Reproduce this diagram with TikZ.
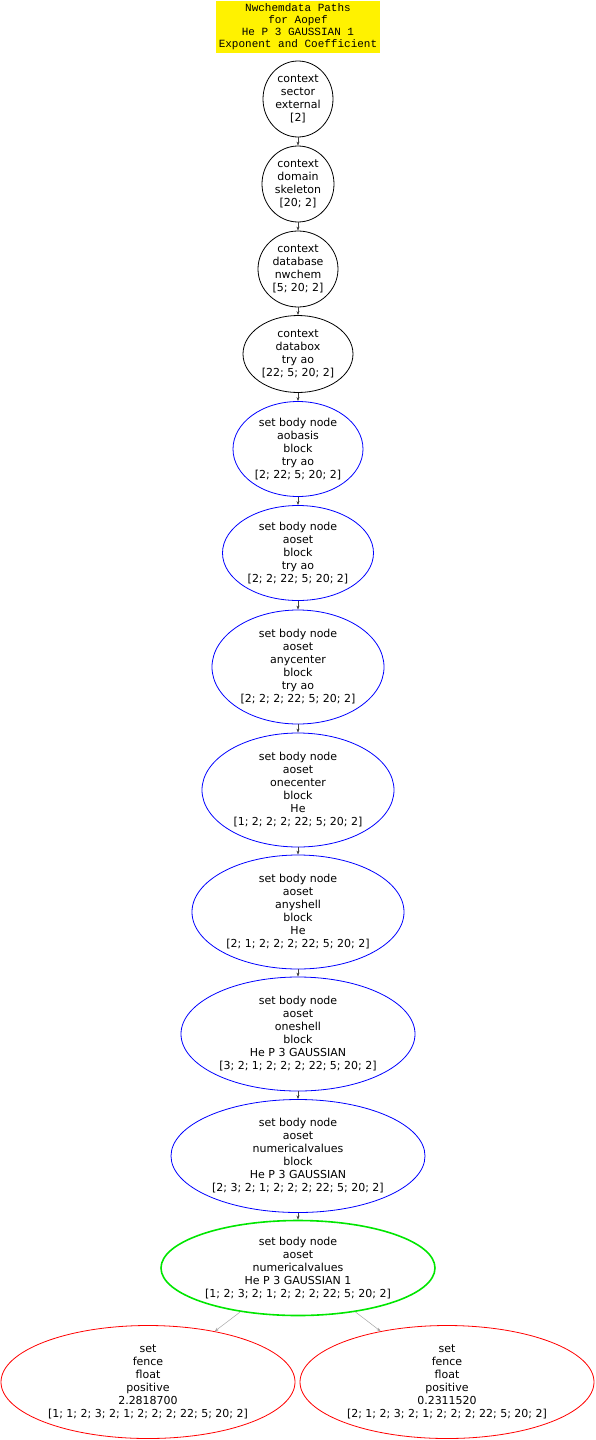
\documentclass[tikz,border=0pt]{standalone}
\usepackage{fontspec}
\setmainfont{DejaVu Sans}
\newfontfamily\titlefont{Liberation Mono}
\usetikzlibrary{shapes.geometric,arrows.meta}
\tikzset{
  ell/.style={ellipse, draw, inner sep=0pt, align=center, line width=0.8pt,
     font=\fontsize{11}{13}\selectfont},
  blk/.style={ell, draw=black},
  blu/.style={ell, draw=blue},
  grn/.style={ell, draw={rgb,255:red,0;green,230;blue,0}, line width=1.6pt},
  rd/.style={ell, draw=red},
  arr/.style={draw=black!75, line width=0.5pt, -{Stealth[length=4pt,width=3pt]}},
  garr/.style={draw=black!35, line width=0.5pt, -{Stealth[length=4pt,width=3pt,fill=black!70]}},
  titlebox/.style={fill=yellow, inner sep=0pt, minimum width=164pt, minimum height=52pt,
     align=center, font=\titlefont\fontsize{11}{12}\selectfont}
}
\begin{document}
\begin{tikzpicture}[x=1pt,y=-1pt]
\useasboundingbox (0,0) rectangle (596,1440);
\node[titlebox] (title) at (298,27) {Nwchemdata Paths\\for Aopef\\He P 3 GAUSSIAN 1\\Exponent and Coefficient};
\node[blk, minimum width=70pt, minimum height=76pt] (n1) at (298,99) {context\\sector\\external\\{[2]}};
\node[blk, minimum width=72pt, minimum height=76pt] (n2) at (298,184) {context\\domain\\skeleton\\{[20; 2]}};
\node[blk, minimum width=80pt, minimum height=76pt] (n3) at (298,269) {context\\database\\nwchem\\{[5; 20; 2]}};
\node[blk, minimum width=110pt, minimum height=77pt] (n4) at (298,354) {context\\databox\\try ao\\{[22; 5; 20; 2]}};
\node[blu, minimum width=130pt, minimum height=95pt] (n5) at (298,449) {set body node\\aobasis\\block\\try ao\\{[2; 22; 5; 20; 2]}};
\node[blu, minimum width=151pt, minimum height=95pt] (n6) at (298,553) {set body node\\aoset\\block\\try ao\\{[2; 2; 22; 5; 20; 2]}};
\node[blu, minimum width=172pt, minimum height=114pt] (n7) at (298,667) {set body node\\aoset\\anycenter\\block\\try ao\\{[2; 2; 2; 22; 5; 20; 2]}};
\node[blu, minimum width=192pt, minimum height=114pt] (n8) at (298,790) {set body node\\aoset\\onecenter\\block\\He\\{[1; 2; 2; 2; 22; 5; 20; 2]}};
\node[blu, minimum width=212pt, minimum height=114pt] (n9) at (298,912) {set body node\\aoset\\anyshell\\block\\He\\{[2; 1; 2; 2; 2; 22; 5; 20; 2]}};
\node[blu, minimum width=234pt, minimum height=114pt] (n10) at (298,1034) {set body node\\aoset\\oneshell\\block\\He P 3 GAUSSIAN\\{[3; 2; 1; 2; 2; 2; 22; 5; 20; 2]}};
\node[blu, minimum width=254pt, minimum height=113pt] (n11) at (298,1156) {set body node\\aoset\\numericalvalues\\block\\He P 3 GAUSSIAN\\{[2; 3; 2; 1; 2; 2; 2; 22; 5; 20; 2]}};
\node[grn, minimum width=274pt, minimum height=95pt] (n12) at (298,1268) {set body node\\aoset\\numericalvalues\\He P 3 GAUSSIAN 1\\{[1; 2; 3; 2; 1; 2; 2; 2; 22; 5; 20; 2]}};
\node[rd, minimum width=294pt, minimum height=113pt] (n13) at (148,1382) {set\\fence\\float\\positive\\2.2818700\\{[1; 1; 2; 3; 2; 1; 2; 2; 2; 22; 5; 20; 2]}};
\node[rd, minimum width=294pt, minimum height=113pt] (n14) at (447,1382) {set\\fence\\float\\positive\\0.2311520\\{[2; 1; 2; 3; 2; 1; 2; 2; 2; 22; 5; 20; 2]}};
\draw[arr] (n1) -- (n2);
\draw[arr] (n2) -- (n3);
\draw[arr] (n3) -- (n4);
\draw[arr] (n4) -- (n5);
\draw[arr] (n5) -- (n6);
\draw[arr] (n6) -- (n7);
\draw[arr] (n7) -- (n8);
\draw[arr] (n8) -- (n9);
\draw[arr] (n9) -- (n10);
\draw[arr] (n10) -- (n11);
\draw[arr] (n11) -- (n12);
\draw[garr] (n12) -- (n13);
\draw[garr] (n12) -- (n14);
\end{tikzpicture}
\end{document}
